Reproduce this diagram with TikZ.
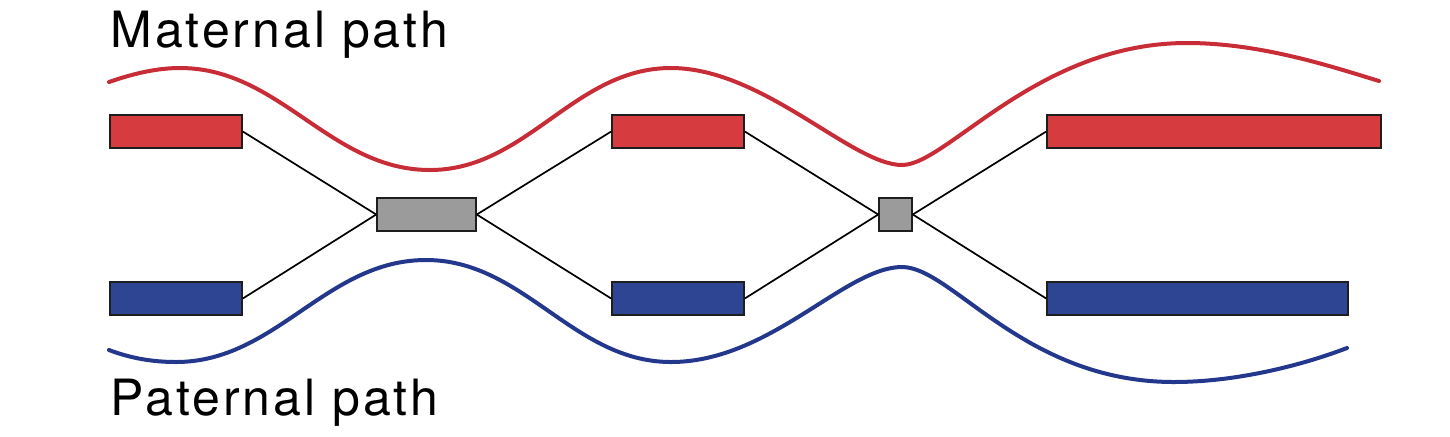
\documentclass[tikz,border=0pt]{standalone}
\usepackage{fontspec}
\usepackage{tikz}
\usetikzlibrary{positioning}
\newfontfamily\pathfont[LetterSpace=6]{TeX Gyre Heros}
\definecolor{matFill}{RGB}{214, 59, 64}
\definecolor{matLine}{RGB}{200, 45, 55}
\definecolor{patFill}{RGB}{46, 69, 147}
\definecolor{patLine}{RGB}{35, 56, 140}
\definecolor{mixFill}{RGB}{155, 155, 155}
\definecolor{inkDark}{RGB}{30, 30, 30}

\begin{document}
\begin{tikzpicture}[x=0.5pt, y=-0.5pt,
    segBox/.style={draw=inkDark, line width=0.8pt, inner sep=0pt, minimum height=16.5pt},
    linkLine/.style={draw=black, line width=0.85pt},
    pathLine/.style={line width=2pt, line cap=round}]
      \useasboundingbox (0,0) rectangle (1450,436);

      \node (matLabel) [anchor=base west, inner sep=0pt, font=\pathfont\fontsize{25pt}{30pt}\selectfont] at (110,47) {Maternal path};
      \node (patLabel) [anchor=base west, inner sep=0pt, font=\pathfont\fontsize{25pt}{30pt}\selectfont] at (110,415) {Paternal path};

      \node (matA) [segBox, fill=matFill, minimum width=66pt] at (176,131.5) {};
      \node (matB) [segBox, fill=matFill, minimum width=66pt] at (678,131.5) {};
      \node (matC) [segBox, fill=matFill, minimum width=167pt] at (1214,131.5) {};

      \node (patA) [segBox, fill=patFill, minimum width=66pt] at (176,298.5) {};
      \node (patB) [segBox, fill=patFill, minimum width=66pt] at (678,298.5) {};
      \node (patC) [segBox, fill=patFill, minimum width=150.5pt] at (1197.5,298.5) {};

      \node (mixA) [segBox, fill=mixFill, minimum width=49.5pt] at (426.5,214.5) {};
      \node (mixB) [segBox, fill=mixFill, minimum width=16.5pt] at (895.5,214.5) {};

      \draw[linkLine] (matA.east) -- (mixA.west);
      \draw[linkLine] (patA.east) -- (mixA.west);
      \draw[linkLine] (mixA.east) -- (matB.west);
      \draw[linkLine] (mixA.east) -- (patB.west);
      \draw[linkLine] (matB.east) -- (mixB.west);
      \draw[linkLine] (patB.east) -- (mixB.west);
      \draw[linkLine] (mixB.east) -- (matC.west);
      \draw[linkLine] (mixB.east) -- (patC.west);

      \draw[pathLine, matLine] (109,82) .. controls (135,73) and (158,68) .. (180,68)
          .. controls (280,68) and (330,170) .. (430,170)
          .. controls (527,170) and (574,68) .. (671,68)
          .. controls (763,68) and (852,165) .. (902,165)
          .. controls (947,165) and (1037,43) .. (1187,43)
          .. controls (1260,43) and (1330,66) .. (1379,81);

      \draw[pathLine, patLine] (109,350) .. controls (130,358) and (152,362) .. (176,362)
          .. controls (276,362) and (326,260) .. (426,260)
          .. controls (524,260) and (573,362) .. (671,362)
          .. controls (770,362) and (845,267) .. (902,267)
          .. controls (952,267) and (1024,382) .. (1174,382)
          .. controls (1235,382) and (1300,366) .. (1347,348);
  \end{tikzpicture}
\end{document}
